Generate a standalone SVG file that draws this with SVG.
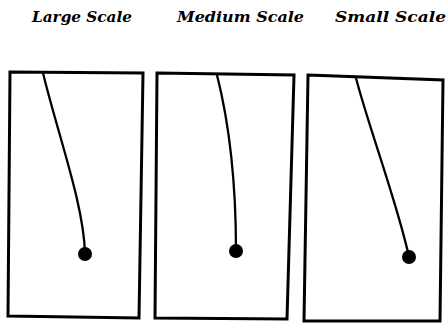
<svg xmlns="http://www.w3.org/2000/svg" width="447" height="324" viewBox="0 0 447 324">
<style>
.t{font-family:"DejaVu Serif","Liberation Serif",serif;font-weight:bold;font-style:italic;font-size:14px;fill:#000}
.frame{fill:#fff;stroke:#000;stroke-width:3;stroke-linejoin:miter}
.rod{fill:none;stroke:#000;stroke-width:2.3;stroke-linecap:round}
.bob{fill:#000}
</style>
<rect width="447" height="324" fill="#fff"/>
<g id="large">
<text class="t" x="32" y="22" textLength="100" lengthAdjust="spacingAndGlyphs">Large Scale</text>
<polygon class="frame" points="10,72 143,73 139,318 8,316"/>
</g>
<g id="medium">
<text class="t" x="177" y="22" textLength="127" lengthAdjust="spacingAndGlyphs">Medium Scale</text>
<polygon class="frame" points="157,73 294,75 287,319 155,318"/>
</g>
<g id="small">
<text class="t" x="335" y="22" textLength="111" lengthAdjust="spacingAndGlyphs">Small Scale</text>
<polygon class="frame" points="308,75 443,80 440,321 304,321"/>
</g>
<g id="connectors">
<path class="rod" d="M43 73 C 58 135, 84 205, 85 254"/>
<path class="rod" d="M217 75 Q 236 150 236 251"/>
<path class="rod" d="M356 78 C 368 125, 398 205, 409 257"/>
</g>
<circle class="bob" cx="85" cy="254" r="7"/>
<circle class="bob" cx="236" cy="251" r="7"/>
<circle class="bob" cx="409" cy="257" r="7"/>
</svg>
